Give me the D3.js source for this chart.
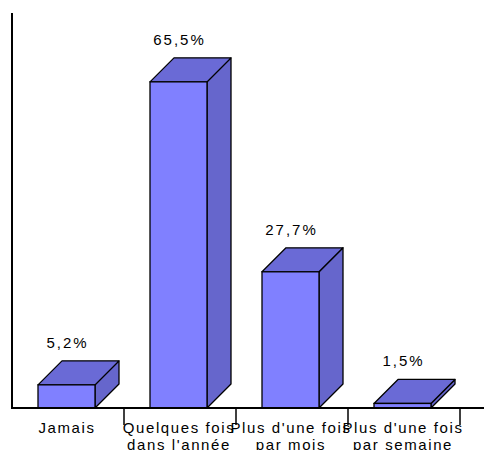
<!DOCTYPE html>
<html><head><meta charset="utf-8">
<script src="https://cdn.jsdelivr.net/npm/d3@7"></script>
<style>body{margin:0;background:#fff}svg text{font-family:"Liberation Sans",Arial,sans-serif;font-size:15px;fill:#000}</style>
</head><body><svg id="c" width="484" height="450"></svg>
<script>
const categories = [["Jamais"], ["Quelques fois", "dans l'année"], ["Plus d'une fois", "par mois"], ["Plus d'une fois", "par semaine"]];
const values = [5.2, 65.5, 27.7, 1.5];
const valueLabels = ["5,2%", "65,5%", "27,7%", "1,5%"];

const svg = d3.select("#c");
const base = 408, dx = 24, dy = 24;
const x = d3.scaleBand().domain(d3.range(categories.length)).range([12, 460]).paddingInner(0).paddingOuter(0);
const y = d3.scaleLinear().domain([0, 80]).range([411, 9]);
const bw = 57, off = 26;

const g = svg.append("g");
values.forEach((v, i) => {
  const x0 = x(i) + off, x1 = x0 + bw, yt = y(v);
  g.append("polygon").attr("points", [[x1, yt], [x1 + dx, yt - dy], [x1 + dx, base - dy], [x1, base]].join(" "))
    .attr("fill", "#6666cc").attr("stroke", "#000").attr("stroke-width", 1.3).attr("stroke-linejoin", "round");
  g.append("polygon").attr("points", [[x0, yt], [x0 + dx, yt - dy], [x1 + dx, yt - dy], [x1, yt]].join(" "))
    .attr("fill", "#6a6ad6").attr("stroke", "#000").attr("stroke-width", 1.3).attr("stroke-linejoin", "round");
  g.append("rect").attr("x", x0).attr("y", yt).attr("width", bw).attr("height", base - yt)
    .attr("fill", "#8080ff").attr("stroke", "#000").attr("stroke-width", 1.3);
  g.append("text").attr("x", x0 + bw / 2 + 1).attr("y", yt - dy - 13).attr("text-anchor", "middle")
    .style("letter-spacing", "2px").text(valueLabels[i]);
});

// axes
svg.append("line").attr("x1", 12).attr("x2", 12).attr("y1", 13).attr("y2", base).attr("stroke", "#000").attr("stroke-width", 2);
svg.append("line").attr("x1", 11).attr("x2", 484).attr("y1", base).attr("y2", base).attr("stroke", "#000").attr("stroke-width", 2);
categories.forEach((c, i) => {
  const xe = x(i) + x.bandwidth();
  svg.append("line").attr("x1", xe).attr("x2", xe).attr("y1", base).attr("y2", 425).attr("stroke", "#000").attr("stroke-width", 1.5);
  const t = svg.append("text").attr("text-anchor", "middle").style("letter-spacing", "1.6px");
  c.forEach((line, k) => t.append("tspan").attr("x", x(i) + x.bandwidth() / 2 - 1).attr("y", 433 + k * 17).text(line));
});
</script></body></html>
